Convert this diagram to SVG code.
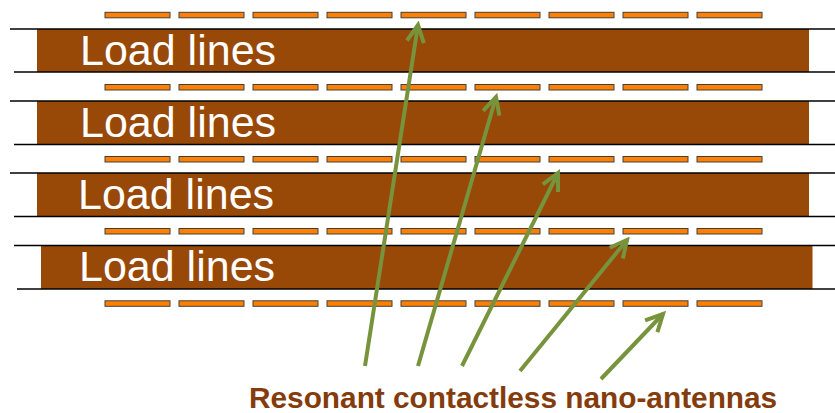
<svg xmlns="http://www.w3.org/2000/svg" width="835" height="413" viewBox="0 0 835 413">
<defs>
<style>
.band{fill:#984807}
.rail{stroke:#000;stroke-width:1.6;fill:none}
.ant{fill:#FF8000;stroke:#404040;stroke-width:1}
.lbl{font-family:"Liberation Sans",Arial,sans-serif;font-size:43px;fill:#fff}
.cap{font-family:"Liberation Sans",Arial,sans-serif;font-size:29.8px;font-weight:bold;fill:#843C0C}
.arr{stroke:#77933C;stroke-width:4;fill:none;marker-end:url(#ah)}
</style>
<marker id="ah" markerUnits="userSpaceOnUse" viewBox="-20 -12 24 24" refX="0" refY="0" markerWidth="24" markerHeight="24" orient="auto">
<path d="M-17,-8.5 L0,0 L-17,8.5" fill="none" stroke="#77933C" stroke-width="4" stroke-linejoin="miter"/>
</marker>
<g id="antrow">
<rect class="ant" x="105" y="0" width="65" height="5.5"/>
<rect class="ant" x="179" y="0" width="65" height="5.5"/>
<rect class="ant" x="253" y="0" width="65" height="5.5"/>
<rect class="ant" x="327" y="0" width="65" height="5.5"/>
<rect class="ant" x="401" y="0" width="65" height="5.5"/>
<rect class="ant" x="475" y="0" width="65" height="5.5"/>
<rect class="ant" x="549" y="0" width="65" height="5.5"/>
<rect class="ant" x="623" y="0" width="65" height="5.5"/>
<rect class="ant" x="697" y="0" width="65" height="5.5"/>
</g>
</defs>
<rect width="835" height="413" fill="#fff"/>
<g id="band1">
<rect class="band" x="37" y="29" width="772" height="43"/>
<line class="rail" x1="10" y1="29" x2="835" y2="29"/>
<line class="rail" x1="14" y1="72" x2="835" y2="72"/>
<text class="lbl" x="80" y="65">Load lines</text>
</g>
<g id="band2">
<rect class="band" x="37" y="101" width="772" height="43.5"/>
<line class="rail" x1="10" y1="101" x2="835" y2="101"/>
<line class="rail" x1="14" y1="144.5" x2="835" y2="144.5"/>
<text class="lbl" x="80" y="137">Load lines</text>
</g>
<g id="band3">
<rect class="band" x="37" y="173" width="772" height="43.5"/>
<line class="rail" x1="10" y1="173" x2="835" y2="173"/>
<line class="rail" x1="14" y1="216.5" x2="835" y2="216.5"/>
<text class="lbl" x="78" y="209">Load lines</text>
</g>
<g id="band4">
<rect class="band" x="41" y="245.5" width="771.5" height="43.5"/>
<line class="rail" x1="14" y1="245.5" x2="835" y2="245.5"/>
<line class="rail" x1="17" y1="289" x2="835" y2="289"/>
<text class="lbl" x="79" y="281">Load lines</text>
</g>
<g id="antennas">
<use href="#antrow" y="12.3"/>
<use href="#antrow" y="84.5"/>
<use href="#antrow" y="156.5"/>
<use href="#antrow" y="228.5"/>
<use href="#antrow" y="300.8"/>
</g>
<g id="connectors">
<line class="arr" x1="365" y1="366" x2="418" y2="25"/>
<line class="arr" x1="418" y1="366" x2="496" y2="97"/>
<line class="arr" x1="462" y1="366" x2="558" y2="173"/>
<line class="arr" x1="520" y1="371" x2="627" y2="240"/>
<line class="arr" x1="601" y1="379" x2="663" y2="314"/>
</g>
<g id="caption">
<text class="cap" x="249" y="408">Resonant contactless nano-antennas</text>
</g>
</svg>
